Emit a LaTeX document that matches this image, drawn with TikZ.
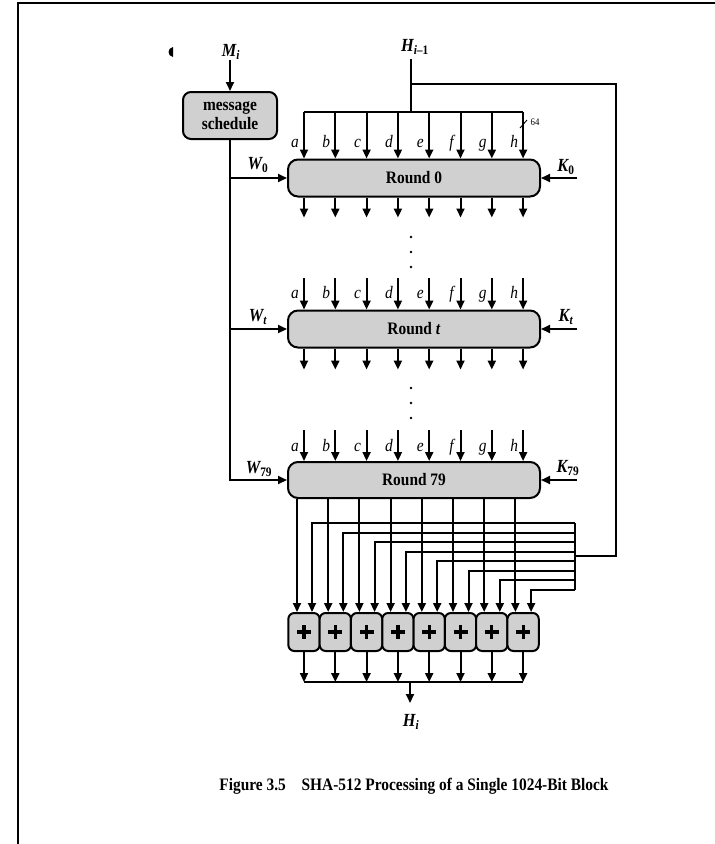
\documentclass[tikz,border=0pt]{standalone}
\usepackage{fontspec}
\setmainfont{Liberation Serif}[FakeStretch=0.88]
\usetikzlibrary{arrows.meta}
\definecolor{boxgray}{RGB}{208,208,208}
\begin{document}
\begin{tikzpicture}[x=1pt,y=-1pt,
  ln/.style={line width=2pt},
  arr/.style={line width=2pt,-{Triangle[length=9pt,width=8pt]}},
  roundbox/.style={draw,line width=2pt,fill=boxgray,rounded corners=10pt,minimum width=252pt,minimum height=37pt,inner sep=0pt,font=\fontsize{17.5}{17.5}\selectfont\bfseries},
  addbox/.style={draw,line width=2pt,fill=boxgray,rounded corners=6pt,minimum width=31.3pt,minimum height=38pt,inner sep=0pt},
  varlab/.style={font=\fontsize{17.5}{17.5}\selectfont\itshape,inner sep=0pt,anchor=base},
  siglab/.style={font=\fontsize{18.5}{18.5}\selectfont\bfseries\itshape,inner sep=0pt},
  dotmark/.style={circle,fill,inner sep=0pt,minimum size=2.8pt}
]
\useasboundingbox (0,0) rectangle (715,844);
\draw[line width=2.2pt] (18,844) -- (18,3) -- (715,3);
\fill (173,47) .. controls (167,48) and (167,56) .. (173,57) -- cycle;

% message schedule
\node[siglab] (mi) at (231,52) {M\textsubscript{\textit{i}}};
\node[draw,line width=2pt,fill=boxgray,rounded corners=8pt,minimum width=94pt,minimum height=47pt,inner sep=0pt,align=center,font=\fontsize{17.5}{19}\selectfont\bfseries] (ms) at (230,115.5) {message\\schedule};
\draw[arr] (mi.south -| ms.north) -- (ms.north);

% rounds
\node[roundbox] (r0) at (414,178) {Round 0};
\node[roundbox] (rt) at (414,329) {Round \textit{t}};
\node[roundbox,minimum height=36pt] (r79) at (414,480) {Round 79};

% W inputs
\draw[arr] (ms.south) |- (r79.west);
\draw[arr] (ms.south |- r0.west) -- (r0.west);
\draw[arr] (ms.south |- rt.west) -- (rt.west);
\node[siglab] (w0) at (258,165) {W\textsubscript{\upshape 0}};
\node[siglab] (wt) at (258,317) {W\textsubscript{\textit{t}}};
\node[siglab] (w79) at (259,469) {W\textsubscript{\upshape 79}};

% K inputs
\coordinate (k0in) at (577,178);
\coordinate (ktin) at (577,329);
\coordinate (k79in) at (577,480);
\draw[arr] (k0in) -- (r0.east);
\draw[arr] (ktin) -- (rt.east);
\draw[arr] (k79in) -- (r79.east);
\node[siglab] (k0) at (566,167) {K\textsubscript{\upshape 0}};
\node[siglab] (kt) at (566,317) {K\textsubscript{\textit{t}}};
\node[siglab] (k79) at (568,468) {K\textsubscript{\upshape 79}};

% H_{i-1}
\node[siglab] (hl) at (415,47) {H\textsubscript{\textit{i}\upshape{}–1}};
\coordinate (hbus) at (411,112);
\coordinate (hj) at (411,84);
\draw[ln] (hbus |- hl.south) ++(0,4) -- (hbus);

% round inputs / outputs
\foreach \l [count=\i from 0] in {a,b,c,d,e,f,g,h} {
  \pgfmathsetmacro\xx{304+31.3*\i}
  \coordinate (in0\i) at (\xx,112);
  \coordinate (int\i) at (\xx,278);
  \coordinate (in79\i) at (\xx,430);
  \draw[arr] (in0\i) -- (in0\i |- r0.north);
  \draw[arr] (int\i) -- (int\i |- rt.north);
  \draw[arr] (in79\i) -- (in79\i |- r79.north);
  \node[varlab] (la0\i) at (\xx-9,147) {\l};
  \node[varlab] (lat\i) at (\xx-9,298) {\l};
  \node[varlab] (la79\i) at (\xx-9,451) {\l};
  \draw[arr] (in0\i |- r0.south) -- ++(0,20);
  \draw[arr] (int\i |- rt.south) -- ++(0,21);
}
\draw[ln] (in00) -- (in07);
\draw[line width=0.9pt] (520,128) -- (527,120);
\node[font=\fontsize{10}{10}\selectfont,inner sep=0pt] (n64) at (535,122) {64};

% dots
\foreach \yy in {237,252,267,388,403,418} { \node[dotmark] at (411,\yy) {}; }

% adders
\coordinate (obus) at (410,682);
\foreach \k in {0,...,7} {
  \pgfmathsetmacro\ax{304+31.3*\k}
  \node[addbox] (add\k) at (\ax,632) {};
  \draw[line width=3.2pt] (add\k.center) +(-7,0) -- +(7,0) (add\k.center) +(0,-7) -- +(0,7);
  \draw[arr] (add\k.south) -- (add\k.south |- obus);
}
\draw[ln] (add0.south |- obus) -- (add7.south |- obus);
\node[siglab] (hi) at (411,722) {H\textsubscript{\textit{i}}};
\draw[arr] (obus) -- ++(0,21);

% feedback
\coordinate (fbc) at (575,556);
\draw[ln] (hj) -- (616,84) -- (616,556) -- (fbc);
\draw[ln] (575,523) -- (575,590);
\foreach \k in {0,...,7} {
  \pgfmathsetmacro\fy{523+9.57*\k}
  \pgfmathsetmacro\fx{312+31.3*\k}
  \pgfmathsetmacro\ox{297+31.2*\k}
  \coordinate (fbin\k) at (\fx,\fy);
  \coordinate (o\k) at (\ox,498);
  \draw[arr] (575,\fy) -- (fbin\k) -- (fbin\k |- add\k.north);
  \draw[arr] (o\k |- r79.south) -- (o\k |- add\k.north);
}

% caption
\node[font=\fontsize{17.5}{17.5}\selectfont\bfseries] (cap) at (414,786) {Figure 3.5\hspace{0.9em}SHA-512 Processing of a Single 1024-Bit Block};
\end{tikzpicture}
\end{document}
